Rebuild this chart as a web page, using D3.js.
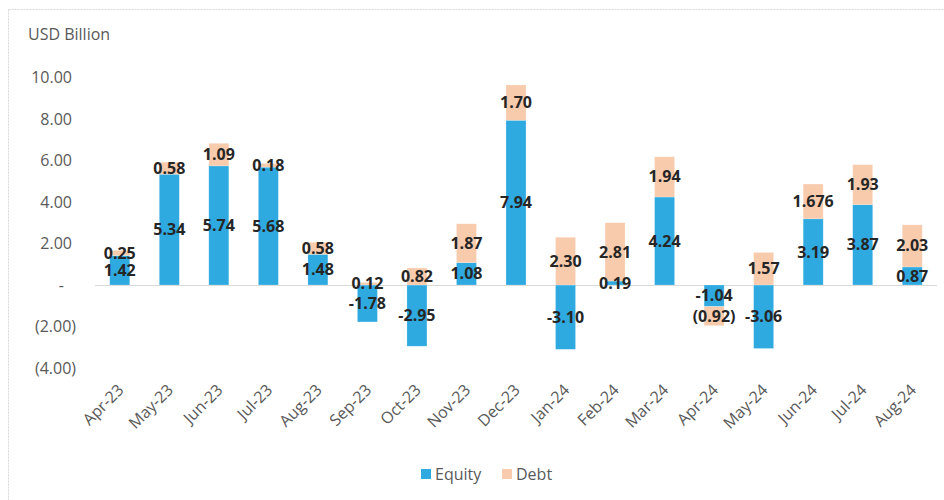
<!DOCTYPE html>
<html>
<head>
<meta charset="utf-8">
<script src="https://cdn.jsdelivr.net/npm/d3@7"></script>
<style>
  body { margin: 0; background: #fff; }
  svg { display: block; font-family: "Open Sans", "Liberation Sans", sans-serif; }
</style>
</head>
<body>
<div id="chart"></div>
<script>
var width = 944;
var height = 500;

// data
var months = ["Apr-23", "May-23", "Jun-23", "Jul-23", "Aug-23", "Sep-23", "Oct-23", "Nov-23", "Dec-23",
              "Jan-24", "Feb-24", "Mar-24", "Apr-24", "May-24", "Jun-24", "Jul-24", "Aug-24"];
var equity = [1.42, 5.34, 5.74, 5.68, 1.48, -1.78, -2.95, 1.08, 7.94, -3.10, 0.19, 4.24, -1.04, -3.06, 3.19, 3.87, 0.87];
var debt   = [0.25, 0.58, 1.09, 0.18, 0.58, 0.12, 0.82, 1.87, 1.70, 2.30, 2.81, 1.94, -0.92, 1.57, 1.676, 1.93, 2.03];
var yTicks = [10, 8, 6, 4, 2, 0, -2, -4];
var seriesNames = ["Equity", "Debt"];
var colors = ["#2eaae1", "#f8cbad"];

var rows = months.map(function(m, i) { return { month: m, Equity: equity[i], Debt: debt[i] }; });

var svg = d3.select("#chart").append("svg").attr("width", width).attr("height", height);

// chart frame
svg.append("rect").attr("x", 8.5).attr("y", 9.5).attr("width", 960).attr("height", 520)
    .attr("fill", "none").attr("stroke", "#d9d9d9").attr("stroke-width", 1).attr("stroke-dasharray", "2,1");

var x = d3.scaleBand().domain(months).range([95, 937]).paddingInner(0.596).paddingOuter(0.298);
var y = d3.scaleLinear().domain([-4, 10]).range([368, 77.5]);

function yFmt(v) {
    if (v === 0) return "-";
    if (v < 0) return "(" + Math.abs(v).toFixed(2) + ")";
    return v.toFixed(2);
}

var yAxis = svg.append("g").attr("transform", "translate(72,0)")
    .call(d3.axisLeft(y).tickValues(yTicks).tickFormat(yFmt).tickSize(0).tickPadding(0));
yAxis.select(".domain").remove();
yAxis.selectAll("text")
    .attr("fill", "#595959").style("font-size", "16px").style("font-family", "Open Sans, sans-serif")
    .attr("dx", function(d) { return d < 0 ? 4 : (d === 0 ? -8 : 0); });

svg.append("text").attr("x", 28).attr("y", 40).attr("fill", "#595959")
    .style("font-size", "16px").text("USD Billion");

// zero line
svg.append("line").attr("x1", 95).attr("x2", 937).attr("y1", y(0) + 0.5).attr("y2", y(0) + 0.5)
    .attr("stroke", "#d9d9d9").attr("stroke-width", 1.2);

var stack = d3.stack().keys(seriesNames).offset(d3.stackOffsetDiverging);
var series = stack(rows);

var groups = svg.append("g").selectAll("g").data(series).enter().append("g")
    .attr("fill", function(d, i) { return colors[i]; });

groups.selectAll("rect").data(function(d) { return d; }).enter().append("rect")
    .attr("x", function(d) { return x(d.data.month); })
    .attr("width", x.bandwidth())
    .attr("y", function(d) { return y(Math.max(d[0], d[1])); })
    .attr("height", function(d) { return Math.abs(y(d[0]) - y(d[1])); })
    .attr("stroke", "#ffffff").attr("stroke-opacity", 0.35).attr("stroke-width", 0.6);

function labelFmt(key, v) {
    var a = Math.abs(v);
    var s = a.toFixed(2);
    if (Math.abs(+s - a) > 1e-9) s = String(a);
    if (v < 0) return key === "Debt" ? "(" + s + ")" : "-" + s;
    return s;
}

var labels = svg.append("g");
series.forEach(function(s) {
    labels.selectAll(null).data(s).enter().append("text")
        .attr("x", function(d) { return x(d.data.month) + x.bandwidth() / 2; })
        .attr("y", function(d) { return y((d[0] + d[1]) / 2); })
        .attr("dy", "0.35em")
        .attr("text-anchor", "middle")
        .attr("fill", "#262626")
        .style("font-size", "16px").style("font-weight", "bold")
        .text(function(d) { return labelFmt(s.key, d.data[s.key]); });
});

// x labels rotated
svg.append("g").selectAll("text").data(months).enter().append("text")
    .attr("transform", function(d) { return "translate(" + (x(d) + x.bandwidth() / 2 + 5) + ",391) rotate(-45)"; })
    .attr("text-anchor", "end")
    .attr("fill", "#595959")
    .style("font-size", "16px")
    .text(function(d) { return d; });

// legend
var legend = svg.append("g").attr("transform", "translate(421,469)");
var legX = [0, 81];
seriesNames.forEach(function(n, i) {
    var g = legend.append("g").attr("transform", "translate(" + legX[i] + ",0)");
    g.append("rect").attr("width", 10).attr("height", 10).attr("fill", colors[i]);
    g.append("text").attr("x", 14).attr("y", 5).attr("dy", "0.35em").attr("fill", "#595959")
        .style("font-size", "16px").text(n);
});
</script>
</body>
</html>
